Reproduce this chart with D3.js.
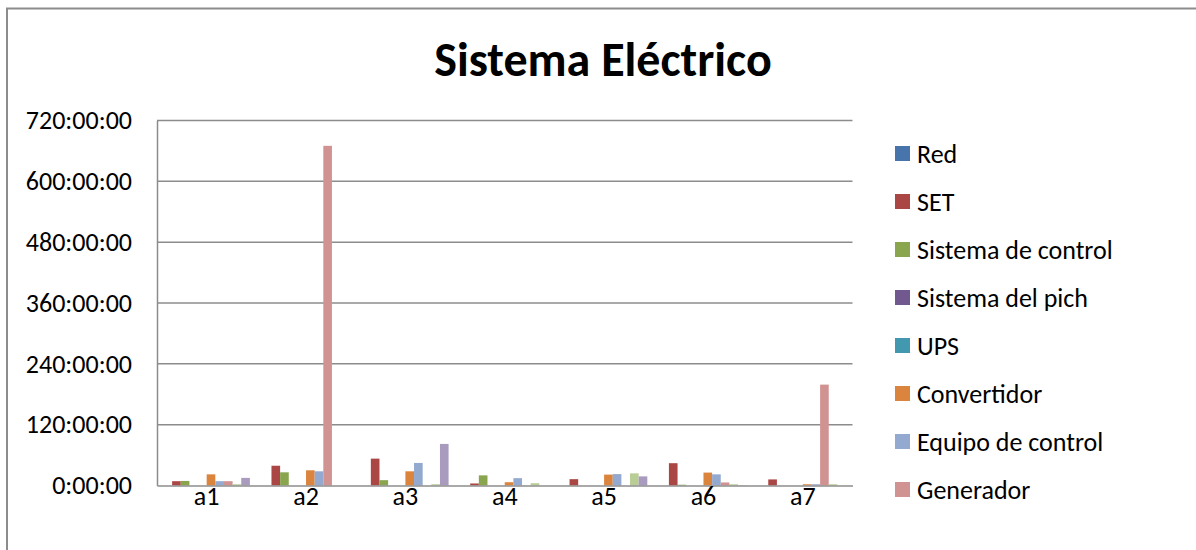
<!DOCTYPE html>
<html>
<head>
<meta charset="utf-8">
<script src="https://cdn.jsdelivr.net/npm/d3@7"></script>
<style>
  body { margin: 0; background: #fff; }
  svg text { font-family: Carlito, Calibri, "Open Sans", sans-serif; fill: #000; }
</style>
</head>
<body>
<script>
// categories and series (hours)
var categories = ['a1', 'a2', 'a3', 'a4', 'a5', 'a6', 'a7'];
var seriesNames = ['Red', 'SET', 'Sistema de control', 'Sistema del pich', 'UPS',
                   'Convertidor', 'Equipo de control', 'Generador', 'Serie 9', 'Serie 10'];
var red        = [0, 0, 0, 0, 0, 0, 0];
var set        = [8.5, 39, 53, 4, 12.5, 44, 12];
var sisControl = [9, 26, 10.5, 20, 0, 1.5, 0];
var sisPich    = [0, 0, 0, 0, 0, 0, 0];
var ups        = [0, 0, 0, 0, 0, 0, 0];
var convertidor = [22, 30, 28, 6.5, 21.5, 25.5, 2.5];
var equipo     = [8.5, 28, 44.5, 14.5, 22.5, 22, 2.5];
var generador  = [8.5, 670, 0, 0, 0, 6, 199];
var serie9     = [2.5, 0, 2.5, 4.5, 24, 2.5, 2.5];
var serie10    = [15, 0, 82, 0, 18, 0.5, 0];
var seriesValues = [red, set, sisControl, sisPich, ups, convertidor, equipo, generador, serie9, serie10];
var yTicks = [0, 120, 240, 360, 480, 600, 720];
var colors = ['#4674AB', '#AA4643', '#89A54E', '#71588F', '#4198AF',
              '#DB843D', '#93A9CF', '#D19392', '#B9CD96', '#A99BBD'];
var legendCount = 8; // legend is cut off after Generador

var W = 1196, H = 550;
var svg = d3.select('body').append('svg')
    .attr('width', W)
    .attr('height', H)

// chart area border (left and top visible)
svg.append('path')
    .attr('d', 'M7,550 L7,8.5 L1196,8.5')
    .attr('fill', 'none')
    .attr('stroke', '#8c8c8c')
    .attr('stroke-width', 2)

// title
svg.append('text')
    .attr('x', 603)
    .attr('y', 76)
    .attr('text-anchor', 'middle')
    .style('font-size', '48px')
    .style('font-weight', 'bold')
    .text('Sistema Eléctrico')

// scales
var plot = { left: 157, right: 852.5, top: 120.5, bottom: 485.5 };
var x0 = d3.scaleBand()
    .domain(categories)
    .range([plot.left, plot.right])
    .padding(0)
var x1 = d3.scaleBand()
    .domain(d3.range(seriesNames.length))
    .range([0, x0.bandwidth()])
    .paddingInner(0)
    .paddingOuter(0.75)
var y = d3.scaleLinear()
    .domain([0, 720])
    .range([plot.bottom, plot.top])

// gridlines
svg.append('g')
  .selectAll('line')
    .data(yTicks.slice(1))
    .enter()
  .append('line')
    .attr('x1', plot.left)
    .attr('x2', plot.right)
    .attr('y1', function (d) { return y(d) })
    .attr('y2', function (d) { return y(d) })
    .attr('stroke', '#8c8c8c')
    .attr('stroke-width', 1.5)

// y axis
var yAxis = d3.axisLeft(y)
    .tickValues(yTicks)
    .tickSize(0)
    .tickPadding(25)
    .tickFormat(function (d) { return d + ':00:00' })
var gy = svg.append('g')
    .attr('transform', 'translate(' + plot.left + ',0)')
    .call(yAxis)
gy.select('.domain').attr('stroke', '#8c8c8c').attr('stroke-width', 1.5)
gy.selectAll('text').style('font-size', '26px').attr('fill', '#000')

// bars
var groups = svg.append('g')
  .selectAll('g')
    .data(categories)
    .enter()
  .append('g')
    .attr('transform', function (d) { return 'translate(' + x0(d) + ',0)' })
groups.selectAll('rect')
    .data(function (c, ci) {
      return seriesValues.map(function (vals, si) { return { s: si, v: vals[ci] } })
    })
    .enter()
  .append('rect')
    .attr('x', function (d) { return x1(d.s) })
    .attr('width', x1.bandwidth())
    .attr('y', function (d) { return y(d.v) })
    .attr('height', function (d) { return y(0) - y(d.v) })
    .attr('fill', function (d) { return colors[d.s] })

// x axis
var xAxis = d3.axisBottom(x0)
    .tickSize(0)
    .tickPadding(1)
var gx = svg.append('g')
    .attr('transform', 'translate(0,' + plot.bottom + ')')
    .call(xAxis)
gx.select('.domain').attr('stroke', '#8c8c8c').attr('stroke-width', 1.5)
gx.selectAll('text').style('font-size', '26px').attr('fill', '#000')

// legend
var legend = svg.append('g')
  .selectAll('g')
    .data(seriesNames.slice(0, legendCount))
    .enter()
  .append('g')
    .attr('transform', function (d, i) { return 'translate(895,' + (153.5 + i * 48) + ')' })
legend.append('rect')
    .attr('x', 0)
    .attr('y', -7.5)
    .attr('width', 15)
    .attr('height', 15)
    .attr('fill', function (d, i) { return colors[i] })
legend.append('text')
    .attr('x', 22)
    .attr('dy', '0.35em')
    .style('font-size', '26px')
    .text(function (d) { return d })
</script>
</body>
</html>
